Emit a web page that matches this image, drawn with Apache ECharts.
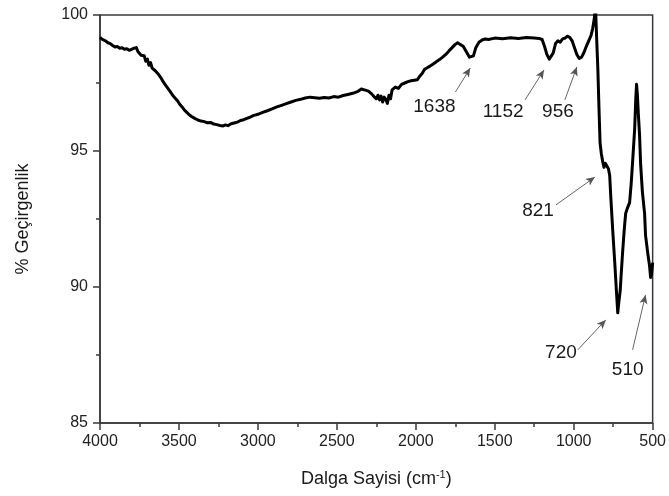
<!DOCTYPE html>
<html>
<head>
<meta charset="utf-8">
<script src="https://cdn.jsdelivr.net/npm/echarts@6/dist/echarts.min.js"></script>
<style>
  html, body { margin: 0; padding: 0; background: #fff; }
  #chart { width: 669px; height: 496px; }
</style>
</head>
<body>
<div id="chart"></div>
<script>
// FTIR spectrum: wavenumber (cm-1) and transmittance (%)
var wavenumber = [
  4000, 3985, 3965, 3950, 3935, 3920, 3905, 3890, 3875, 3860, 3845, 3830, 3815, 3800,
  3785, 3770, 3760, 3750, 3740, 3730, 3720, 3710, 3700, 3690, 3680, 3670, 3660, 3650,
  3640, 3630, 3615, 3600, 3585, 3570, 3555, 3540, 3525, 3510, 3495, 3480, 3465, 3450,
  3435, 3420, 3400, 3380, 3360, 3340, 3320, 3300, 3280, 3260, 3240, 3220, 3205, 3190,
  3170, 3150, 3130, 3110, 3090, 3070, 3050, 3030, 3000, 2970, 2940, 2910, 2880, 2850,
  2820, 2790, 2760, 2730, 2700, 2670, 2640, 2610, 2580, 2550, 2520, 2490, 2460, 2430,
  2400, 2370, 2345, 2320, 2300, 2280, 2265, 2250, 2240, 2230, 2220, 2210, 2200, 2190,
  2180, 2170, 2160, 2150, 2130, 2110, 2090, 2070, 2050, 2030, 2010, 1990, 1975, 1960,
  1945, 1930, 1910, 1890, 1870, 1850, 1830, 1810, 1790, 1770, 1750, 1735, 1720, 1700,
  1680, 1660, 1648, 1635, 1620, 1600, 1580, 1560, 1540, 1500, 1450, 1400, 1350, 1300,
  1250, 1220, 1200, 1185, 1170, 1155, 1145, 1130, 1115, 1100, 1085, 1070, 1055, 1040,
  1025, 1010, 995, 980, 965, 950, 935, 920, 905, 890, 880, 870, 862, 855,
  847, 840, 833, 825, 816, 808, 800, 790, 780, 772, 765, 752, 740, 730,
  721, 715, 705, 700, 690, 680, 671, 660, 646, 636, 627, 614, 607, 602,
  597, 590, 583, 576, 565, 551, 545, 530, 520, 513, 507, 500
];
var transmittance = [
  99.18, 99.10, 99.05, 98.98, 98.95, 98.88, 98.82, 98.84, 98.78, 98.80, 98.74, 98.76, 98.70, 98.74,
  98.78, 98.80, 98.66, 98.72, 98.52, 98.45, 98.50, 98.30, 98.38, 98.15, 98.25, 98.05, 98.12, 97.95,
  97.98, 97.82, 97.70, 97.55, 97.42, 97.30, 97.18, 97.05, 96.95, 96.85, 96.72, 96.62, 96.50, 96.42,
  96.33, 96.27, 96.20, 96.14, 96.10, 96.08, 96.04, 96.05, 95.99, 95.97, 95.94, 95.92, 95.96, 95.93,
  96.00, 96.03, 96.06, 96.12, 96.15, 96.20, 96.24, 96.30, 96.35, 96.42, 96.48, 96.55, 96.62, 96.68,
  96.74, 96.80, 96.86, 96.90, 96.95, 96.98, 96.96, 96.94, 96.97, 96.95, 97.00, 96.98, 97.04, 97.08,
  97.12, 97.18, 97.28, 97.24, 97.20, 97.10, 97.00, 96.92, 97.05, 96.88, 97.02, 96.80, 96.98, 96.90,
  96.75, 97.05, 96.92, 97.25, 97.35, 97.30, 97.45, 97.50, 97.55, 97.58, 97.60, 97.62, 97.75, 97.85,
  98.00, 98.05, 98.12, 98.20, 98.28, 98.36, 98.45, 98.55, 98.68, 98.80, 98.92, 98.98, 98.92, 98.85,
  98.65, 98.45, 98.38, 98.50, 98.80, 99.00, 99.08, 99.12, 99.10, 99.15, 99.13, 99.16, 99.14, 99.17,
  99.15, 99.14, 99.10, 98.85, 98.55, 98.38, 98.40, 98.60, 98.95, 99.05, 99.00, 99.12, 99.15, 99.22,
  99.18, 99.05, 98.80, 98.55, 98.40, 98.45, 98.62, 98.85, 99.05, 99.25, 99.50, 99.85, 100.3, 99.2,
  98.0, 96.6, 95.3, 94.9, 94.6, 94.4, 94.55, 94.5, 94.35, 94.1, 93.3, 92.0, 90.9, 89.9,
  89.05, 89.4, 89.9, 90.4, 91.3, 92.1, 92.7, 92.9, 93.1, 93.8, 94.6, 95.8, 96.9, 97.45,
  97.1, 96.3, 95.6, 94.5, 93.5, 92.7, 91.9, 91.2, 90.8, 90.35, 90.45, 90.9
];

// Axis ticks
var xTicks = [4000, 3500, 3000, 2500, 2000, 1500, 1000, 500];
var yTicks = [85, 90, 95, 100];

// Band annotations: label text, label anchor, arrow tail and arrow head (data units)
var bandLabels = ['1638', '1152', '956', '821', '720', '510'];
var labelX = [1882, 1447, 1100, 1226, 1081, 658];
var labelY = [96.62, 96.43, 96.43, 92.80, 87.57, 86.95];
var arrowFromX = [1749, 1308, 1056, 1112, 974, 627];
var arrowFromY = [97.17, 96.88, 96.88, 93.02, 87.69, 87.69];
var arrowToX = [1655, 1188, 980, 866, 797, 545];
var arrowToY = [98.05, 97.98, 98.09, 94.04, 88.79, 89.71];

var FONT = 'Liberation Sans, Arial, Helvetica, sans-serif';

var spectrum = wavenumber.map(function (w, i) { return [w, transmittance[i]]; });
var labelPoints = bandLabels.map(function (t, i) { return [labelX[i], labelY[i], t]; });
var arrows = bandLabels.map(function (t, i) {
  return [
    { coord: [arrowFromX[i], arrowFromY[i]], symbol: 'none' },
    { coord: [arrowToX[i], arrowToY[i]], symbol: 'arrow', symbolSize: [6, 9] }
  ];
});

var chart = echarts.init(document.getElementById('chart'), null, { renderer: 'canvas' });

chart.setOption({
  animation: false,
  backgroundColor: '#ffffff',
  grid: {
    left: 100, right: 13, top: 15, bottom: 73,
    show: true, borderColor: '#3a3a3a', borderWidth: 1.5, backgroundColor: 'transparent'
  },
  xAxis: {
    type: 'value',
    inverse: true,
    min: 500, max: 4000, interval: 500,
    name: 'Dalga Sayisi (cm{sup|-1})',
    nameLocation: 'middle',
    nameGap: 46,
    nameTextStyle: {
      fontFamily: FONT, fontSize: 18, color: '#1a1a1a',
      rich: { sup: { fontFamily: FONT, fontSize: 11, color: '#1a1a1a', padding: [0, 0, 10, 0] } }
    },
    axisLine: { show: true, onZero: false, lineStyle: { color: '#3a3a3a', width: 1.5 } },
    axisTick: { show: true, inside: false, length: 7, lineStyle: { color: '#3a3a3a', width: 1.5 } },
    minorTick: { show: true, splitNumber: 2, length: 4, lineStyle: { color: '#3a3a3a', width: 1.5 } },
    axisLabel: {
      margin: 11, fontFamily: FONT, fontSize: 16, color: '#222',
      formatter: function (v) { return xTicks.indexOf(v) >= 0 ? String(v) : ''; }
    },
    splitLine: { show: false }
  },
  yAxis: {
    type: 'value',
    min: 85, max: 100, interval: 5,
    name: '% Geçirgenlik',
    nameLocation: 'middle',
    nameGap: 68,
    nameRotate: 90,
    nameTextStyle: { fontFamily: FONT, fontSize: 18, color: '#1a1a1a' },
    axisLine: { show: true, onZero: false, lineStyle: { color: '#3a3a3a', width: 1.5 } },
    axisTick: { show: true, inside: false, length: 7, lineStyle: { color: '#3a3a3a', width: 1.5 } },
    minorTick: { show: true, splitNumber: 2, length: 4, lineStyle: { color: '#3a3a3a', width: 1.5 } },
    axisLabel: {
      margin: 12, fontFamily: FONT, fontSize: 16, color: '#222',
      formatter: function (v) { return yTicks.indexOf(v) >= 0 ? String(v) : ''; }
    },
    splitLine: { show: false }
  },
  series: [
    {
      type: 'line',
      data: spectrum,
      showSymbol: false,
      clip: true,
      silent: true,
      lineStyle: { color: '#000', width: 3, join: 'round' },
      markLine: {
        silent: true,
        symbol: ['none', 'arrow'],
        symbolSize: 9,
        label: { show: false },
        itemStyle: { color: '#333' },
        lineStyle: { color: '#555', width: 0.9, type: 'solid' },
        emphasis: { disabled: true },
        data: arrows
      }
    },
    {
      type: 'scatter',
      data: labelPoints,
      symbolSize: 0,
      silent: true,
      itemStyle: { opacity: 1 },
      label: {
        show: true,
        position: 'inside',
        fontFamily: FONT,
        fontSize: 19,
        color: '#1a1a1a',
        opacity: 1,
        formatter: function (p) { return p.value[2]; }
      }
    }
  ]
});
</script>
</body>
</html>
